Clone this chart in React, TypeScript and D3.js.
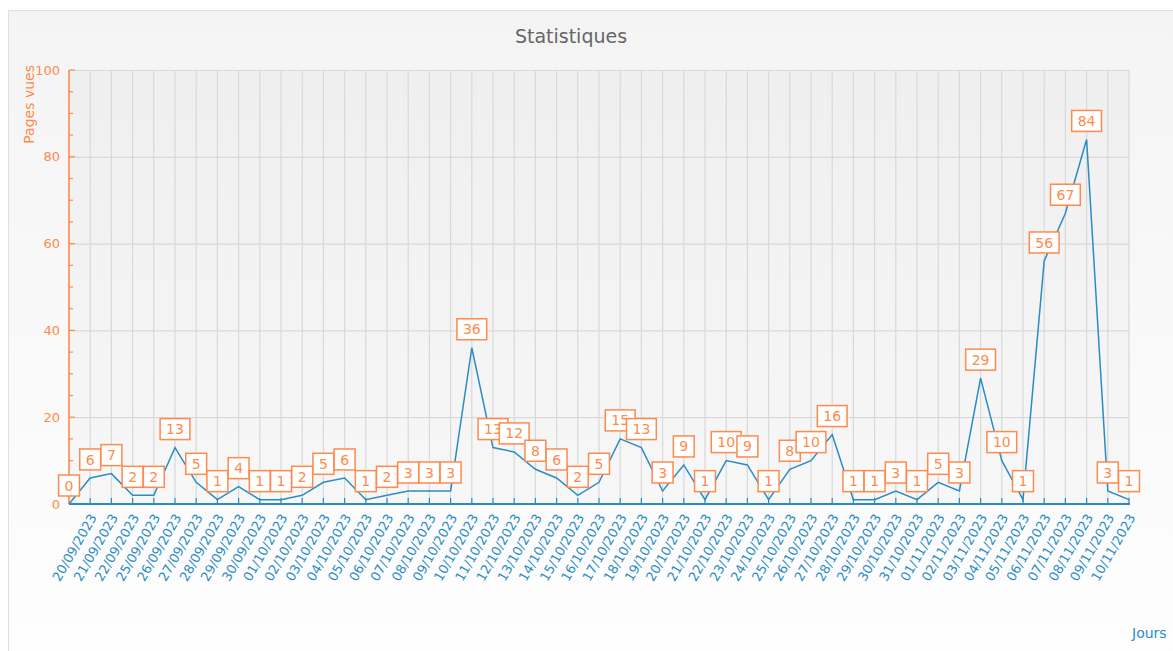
import React, { useEffect, useRef } from "react";
import * as d3 from "d3";

// jours (le premier point n'a pas d'étiquette sur l'axe)
const jours = [
  "", "20/09/2023", "21/09/2023", "22/09/2023", "25/09/2023", "26/09/2023", "27/09/2023",
  "28/09/2023", "29/09/2023", "30/09/2023", "01/10/2023", "02/10/2023", "03/10/2023",
  "04/10/2023", "05/10/2023", "06/10/2023", "07/10/2023", "08/10/2023", "09/10/2023",
  "10/10/2023", "11/10/2023", "12/10/2023", "13/10/2023", "14/10/2023", "15/10/2023",
  "16/10/2023", "17/10/2023", "18/10/2023", "19/10/2023", "20/10/2023", "21/10/2023",
  "22/10/2023", "23/10/2023", "24/10/2023", "25/10/2023", "26/10/2023", "27/10/2023",
  "28/10/2023", "29/10/2023", "30/10/2023", "31/10/2023", "01/11/2023", "02/11/2023",
  "03/11/2023", "04/11/2023", "05/11/2023", "06/11/2023", "07/11/2023", "08/11/2023",
  "09/11/2023", "10/11/2023",
];

const pagesVues = [
  0, 6, 7, 2, 2, 13, 5, 1, 4, 1, 1, 2, 5, 6, 1, 2, 3, 3, 3, 36, 13, 12, 8, 6, 2, 5,
  15, 13, 3, 9, 1, 10, 9, 1, 8, 10, 16, 1, 1, 3, 1, 5, 3, 29, 10, 1, 56, 67, 84, 3, 1,
];

const yTicks = [0, 20, 40, 60, 80, 100];
const yMinorTicks = d3.range(0, 101, 5);

const ORANGE = "#ff8a4c";
const BLUE = "#2b8cc4";
const FONT = "'DejaVu Sans', sans-serif";

export default function App() {
  const ref = useRef<SVGSVGElement>(null);

  useEffect(() => {
    const width = 1173, height = 651;
    const left = 69, right = 1129, top = 70, bottom = 504;

    const svg = d3.select(ref.current);
    svg.selectAll("*").remove();
    svg.attr("width", width).attr("height", height);

    const defs = svg.append("defs");
    const bg = defs.append("linearGradient").attr("id", "bg").attr("x1", 0).attr("y1", 0).attr("x2", 0).attr("y2", 1);
    bg.append("stop").attr("offset", "0%").attr("stop-color", "#f4f4f4");
    bg.append("stop").attr("offset", "100%").attr("stop-color", "#fefefe");
    const pg = defs.append("linearGradient").attr("id", "pg").attr("x1", 0).attr("y1", 0).attr("x2", 0).attr("y2", 1);
    pg.append("stop").attr("offset", "0%").attr("stop-color", "#efefef");
    pg.append("stop").attr("offset", "100%").attr("stop-color", "#f7f7f7");

    // cadre
    svg.append("rect")
      .attr("x", 8.5).attr("y", 10.5).attr("width", 1180).attr("height", 660)
      .attr("fill", "url(#bg)").attr("stroke", "#e0e0e0");

    svg.append("text")
      .attr("x", 571).attr("y", 43)
      .attr("text-anchor", "middle")
      .style("font-family", FONT).style("font-size", "19px")
      .attr("fill", "#666")
      .text("Statistiques");

    const x = d3.scalePoint<number>().domain(d3.range(pagesVues.length)).range([left, right]);
    const y = d3.scaleLinear().domain([0, 100]).range([bottom, top]);

    svg.append("rect")
      .attr("x", left).attr("y", top).attr("width", right - left).attr("height", bottom - top)
      .attr("fill", "url(#pg)");

    // grille
    svg.append("g").selectAll("line").data(yTicks).enter().append("line")
      .attr("x1", left).attr("x2", right)
      .attr("y1", (d) => y(d) + 0.5).attr("y2", (d) => y(d) + 0.5)
      .attr("stroke", "#d9d9d9").attr("stroke-width", 1.2);
    svg.append("g").selectAll("line").data(d3.range(pagesVues.length)).enter().append("line")
      .attr("x1", (d) => x(d)!).attr("x2", (d) => x(d)!)
      .attr("y1", top).attr("y2", bottom)
      .attr("stroke", "#d9d9d9").attr("stroke-width", 1.2);

    // axe Y
    svg.append("line")
      .attr("x1", left).attr("x2", left).attr("y1", top).attr("y2", bottom)
      .attr("stroke", ORANGE).attr("stroke-width", 1.5);
    svg.append("g").selectAll("line").data(yMinorTicks).enter().append("line")
      .attr("x1", left).attr("x2", (d) => (d % 20 === 0 ? left + 6 : left + 4))
      .attr("y1", (d) => y(d)).attr("y2", (d) => y(d))
      .attr("stroke", ORANGE).attr("stroke-width", 1.2);
    svg.append("g").selectAll("text").data(yTicks).enter().append("text")
      .attr("x", 60).attr("y", (d) => y(d))
      .attr("dy", "0.36em")
      .attr("text-anchor", "end")
      .style("font-family", FONT).style("font-size", "13px")
      .attr("fill", ORANGE)
      .text((d) => d);
    svg.append("text")
      .attr("transform", "translate(34,65) rotate(-90)")
      .attr("text-anchor", "end")
      .style("font-family", FONT).style("font-size", "14px")
      .attr("fill", ORANGE)
      .text("Pages vues");

    // axe X
    svg.append("line")
      .attr("x1", left).attr("x2", right + 1).attr("y1", bottom).attr("y2", bottom)
      .attr("stroke", BLUE).attr("stroke-width", 2);
    svg.append("g").selectAll("line").data(d3.range(1, pagesVues.length)).enter().append("line")
      .attr("x1", (d) => x(d)!).attr("x2", (d) => x(d)!)
      .attr("y1", bottom).attr("y2", bottom - 6)
      .attr("stroke", BLUE).attr("stroke-width", 1.2);
    svg.append("g").selectAll("text").data(d3.range(1, pagesVues.length)).enter().append("text")
      .attr("transform", (d) => "translate(" + (x(d)! + 3) + "," + (bottom + 11) + ") rotate(-60)")
      .attr("text-anchor", "end")
      .attr("dy", "0.35em")
      .style("font-family", FONT).style("font-size", "13px")
      .attr("fill", BLUE)
      .text((d) => jours[d]);
    svg.append("text")
      .attr("x", 1132).attr("y", 638)
      .style("font-family", FONT).style("font-size", "14px")
      .attr("fill", BLUE)
      .text("Jours");

    // courbe
    const line = d3.line<number>()
      .x((d, i) => x(i)!)
      .y((d) => y(d));
    svg.append("path")
      .datum(pagesVues)
      .attr("d", line)
      .attr("fill", "none")
      .attr("stroke", BLUE)
      .attr("stroke-width", 1.5);

    // étiquettes
    const g = svg.append("g").selectAll("g").data(pagesVues).enter().append("g")
      .attr("transform", (d, i) => "translate(" + x(i) + "," + (y(d) - 8) + ")");
    g.append("rect")
      .attr("x", (d) => -(String(d).length * 8.9 + 12) / 2)
      .attr("y", -21)
      .attr("width", (d) => String(d).length * 8.9 + 12)
      .attr("height", 21)
      .attr("fill", "#fff")
      .attr("stroke", ORANGE)
      .attr("stroke-width", 1.5);
    g.append("text")
      .attr("y", -10.5)
      .attr("dy", "0.36em")
      .attr("text-anchor", "middle")
      .style("font-family", FONT).style("font-size", "14px")
      .attr("fill", ORANGE)
      .text((d) => d);
  }, []);

  return (
    <svg ref={ref} style={{ position: "absolute", left: 0, top: 0, display: "block" }}></svg>
  );
}
